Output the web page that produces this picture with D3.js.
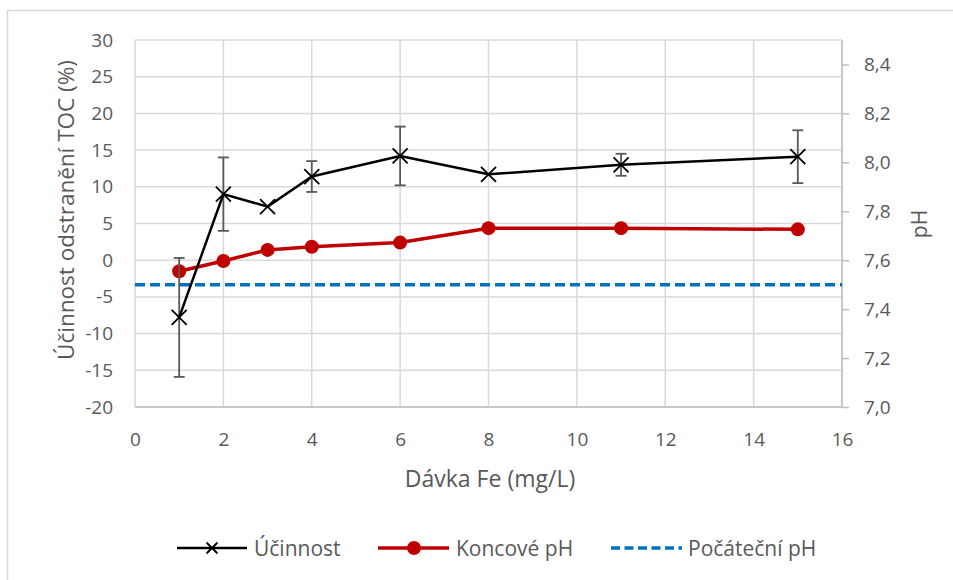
<!DOCTYPE html>
<html>
<head>
<meta charset="utf-8">
<script src="https://cdn.jsdelivr.net/npm/d3@7"></script>
<style>
  body { margin: 0; background: #fff; }
  text { font-family: "Open Sans", "Noto Sans", sans-serif; fill: #595959; }
</style>
</head>
<body>
<div id="chart"></div>
<script>
// Data
const doses = [1, 2, 3, 4, 6, 8, 11, 15];
const efficiency = [-7.8, 9.0, 7.3, 11.4, 14.2, 11.7, 13.0, 14.1];
const efficiencyErr = [8.1, 5.0, 0, 2.1, 4.0, 0, 1.5, 3.6];
const finalPH = [7.555, 7.597, 7.642, 7.655, 7.672, 7.731, 7.731, 7.726];
const initialPH = 7.5;
const leftTicks = [-20, -15, -10, -5, 0, 5, 10, 15, 20, 25, 30];
const rightTicks = [7.0, 7.2, 7.4, 7.6, 7.8, 8.0, 8.2, 8.4];
const xTicks = [0, 2, 4, 6, 8, 10, 12, 14, 16];

const W = 953, H = 580;
const plot = { left: 135, right: 842, top: 40, bottom: 407 };
const tickFont = '19px';

const svg = d3.select('#chart').append('svg')
  .attr('width', W).attr('height', H);

// outer chart border (runs past the window on the right and bottom)
svg.append('rect')
  .attr('x', 7.5).attr('y', 10.5)
  .attr('width', W + 20).attr('height', H + 20)
  .attr('fill', 'none').attr('stroke', '#d9d9d9').attr('stroke-width', 1.5);

const x = d3.scaleLinear().domain([0, 16]).range([plot.left, plot.right]);
const yL = d3.scaleLinear().domain([-20, 30]).range([plot.bottom, plot.top]);
const yR = d3.scaleLinear().domain([7.0, 8.5]).range([plot.bottom, plot.top]);

// gridlines
svg.append('g').selectAll('line')
  .data(leftTicks)
  .join('line')
  .attr('x1', plot.left).attr('x2', plot.right)
  .attr('y1', d => yL(d)).attr('y2', d => yL(d))
  .attr('stroke', '#d9d9d9').attr('stroke-width', 1.5);

svg.append('g').selectAll('line')
  .data(xTicks)
  .join('line')
  .attr('x1', d => x(d)).attr('x2', d => x(d))
  .attr('y1', plot.top).attr('y2', plot.bottom)
  .attr('stroke', '#d9d9d9').attr('stroke-width', 1.5);

// bottom axis line
svg.append('line')
  .attr('x1', plot.left).attr('x2', plot.right)
  .attr('y1', plot.bottom).attr('y2', plot.bottom)
  .attr('stroke', '#bfbfbf').attr('stroke-width', 1.5);

const rightAxis = d3.axisRight(yR)
  .tickValues(rightTicks)
  .tickSize(7)
  .tickPadding(15)
  .tickFormat(d => d3.format('.1f')(d).replace('.', ','));

const gR = svg.append('g')
  .attr('transform', `translate(${plot.right},0)`)
  .call(rightAxis);
gR.select('.domain').attr('stroke', '#bfbfbf').attr('stroke-width', 1.5)
  .attr('d', `M0,${plot.top}V${plot.bottom}`);
gR.selectAll('.tick line').attr('stroke', '#bfbfbf').attr('stroke-width', 1.5);
gR.selectAll('.tick text')
  .attr('fill', '#595959').style('font-size', tickFont)
  .style('font-family', '"Open Sans", sans-serif');

const leftAxis = d3.axisLeft(yL)
  .tickValues(leftTicks)
  .tickSize(0)
  .tickPadding(22)
  .tickFormat(d => String(d));
const gL = svg.append('g')
  .attr('transform', `translate(${plot.left},0)`)
  .call(leftAxis);
gL.select('.domain').remove();
gL.selectAll('.tick text')
  .attr('fill', '#595959').style('font-size', tickFont)
  .style('font-family', '"Open Sans", sans-serif');

const bottomAxis = d3.axisBottom(x)
  .tickValues(xTicks)
  .tickSize(0)
  .tickPadding(26);
const gB = svg.append('g')
  .attr('transform', `translate(0,${plot.bottom})`)
  .call(bottomAxis);
gB.select('.domain').remove();
gB.selectAll('.tick text')
  .attr('fill', '#595959').style('font-size', tickFont)
  .style('font-family', '"Open Sans", sans-serif');

// axis titles
svg.append('text')
  .attr('transform', `translate(74,210) rotate(-90)`)
  .attr('text-anchor', 'middle')
  .style('font-size', '22.5px')
  .text('Účinnost odstranění TOC (%)');

svg.append('text')
  .attr('transform', `translate(927,224) rotate(-90)`)
  .attr('text-anchor', 'middle')
  .style('font-size', '21px')
  .text('pH');

svg.append('text')
  .attr('x', 490)
  .attr('y', 487)
  .attr('text-anchor', 'middle')
  .style('font-size', '23px')
  .text('Dávka Fe (mg/L)');

// initial pH dashed line
svg.append('line')
  .attr('x1', plot.left).attr('x2', plot.right)
  .attr('y1', yR(initialPH)).attr('y2', yR(initialPH))
  .attr('stroke', '#0070c0').attr('stroke-width', 3.5)
  .attr('stroke-dasharray', '10,5');

// final pH line
const phData = doses.map((d, i) => ({ x: d, y: finalPH[i] }));
svg.append('path')
  .datum(phData)
  .attr('fill', 'none')
  .attr('stroke', '#c00000').attr('stroke-width', 3.5)
  .attr('stroke-linejoin', 'round')
  .attr('d', d3.line().x(d => x(d.x)).y(d => yR(d.y)));
svg.append('g').selectAll('circle')
  .data(phData)
  .join('circle')
  .attr('cx', d => x(d.x)).attr('cy', d => yR(d.y))
  .attr('r', 7).attr('fill', '#c00000');

// efficiency error bars
const effData = doses.map((d, i) => ({ x: d, y: efficiency[i], e: efficiencyErr[i] }));
const eb = svg.append('g').selectAll('g')
  .data(effData.filter(d => d.e > 0))
  .join('g')
  .attr('stroke', '#595959').attr('stroke-width', 1.8);
eb.append('line')
  .attr('x1', d => x(d.x)).attr('x2', d => x(d.x))
  .attr('y1', d => yL(d.y - d.e)).attr('y2', d => yL(d.y + d.e));
eb.append('line')
  .attr('x1', d => x(d.x) - 5.5).attr('x2', d => x(d.x) + 5.5)
  .attr('y1', d => yL(d.y + d.e)).attr('y2', d => yL(d.y + d.e));
eb.append('line')
  .attr('x1', d => x(d.x) - 5.5).attr('x2', d => x(d.x) + 5.5)
  .attr('y1', d => yL(d.y - d.e)).attr('y2', d => yL(d.y - d.e));

// efficiency line
svg.append('path')
  .datum(effData)
  .attr('fill', 'none')
  .attr('stroke', '#000').attr('stroke-width', 2.5)
  .attr('stroke-linejoin', 'round')
  .attr('d', d3.line().x(d => x(d.x)).y(d => yL(d.y)));

const xMark = s => `M${-s},${-s}L${s},${s}M${-s},${s}L${s},${-s}`;
svg.append('g').selectAll('path')
  .data(effData)
  .join('path')
  .attr('transform', d => `translate(${x(d.x)},${yL(d.y)})`)
  .attr('d', xMark(7.5))
  .attr('stroke', '#000').attr('stroke-width', 1.8).attr('fill', 'none');

// legend
const ly = 548;
const legendFont = '21px';
const legend = svg.append('g');
legend.append('line').attr('x1', 177).attr('x2', 247).attr('y1', ly).attr('y2', ly)
  .attr('stroke', '#000').attr('stroke-width', 2.5);
legend.append('path').attr('transform', `translate(212,${ly})`).attr('d', xMark(5.5))
  .attr('stroke', '#000').attr('stroke-width', 1.8);
legend.append('text').attr('x', 254).attr('y', ly + 7.5).style('font-size', legendFont).text('Účinnost');

legend.append('line').attr('x1', 378).attr('x2', 449).attr('y1', ly).attr('y2', ly)
  .attr('stroke', '#c00000').attr('stroke-width', 3.5);
legend.append('circle').attr('cx', 414).attr('cy', ly).attr('r', 7).attr('fill', '#c00000');
legend.append('text').attr('x', 456).attr('y', ly + 7.5).style('font-size', legendFont).text('Koncové pH');

legend.append('line').attr('x1', 611).attr('x2', 682).attr('y1', ly).attr('y2', ly)
  .attr('stroke', '#0070c0').attr('stroke-width', 3.5).attr('stroke-dasharray', '9,4.5');
legend.append('text').attr('x', 688).attr('y', ly + 7.5).style('font-size', legendFont).text('Počáteční pH');
</script>
</body>
</html>
